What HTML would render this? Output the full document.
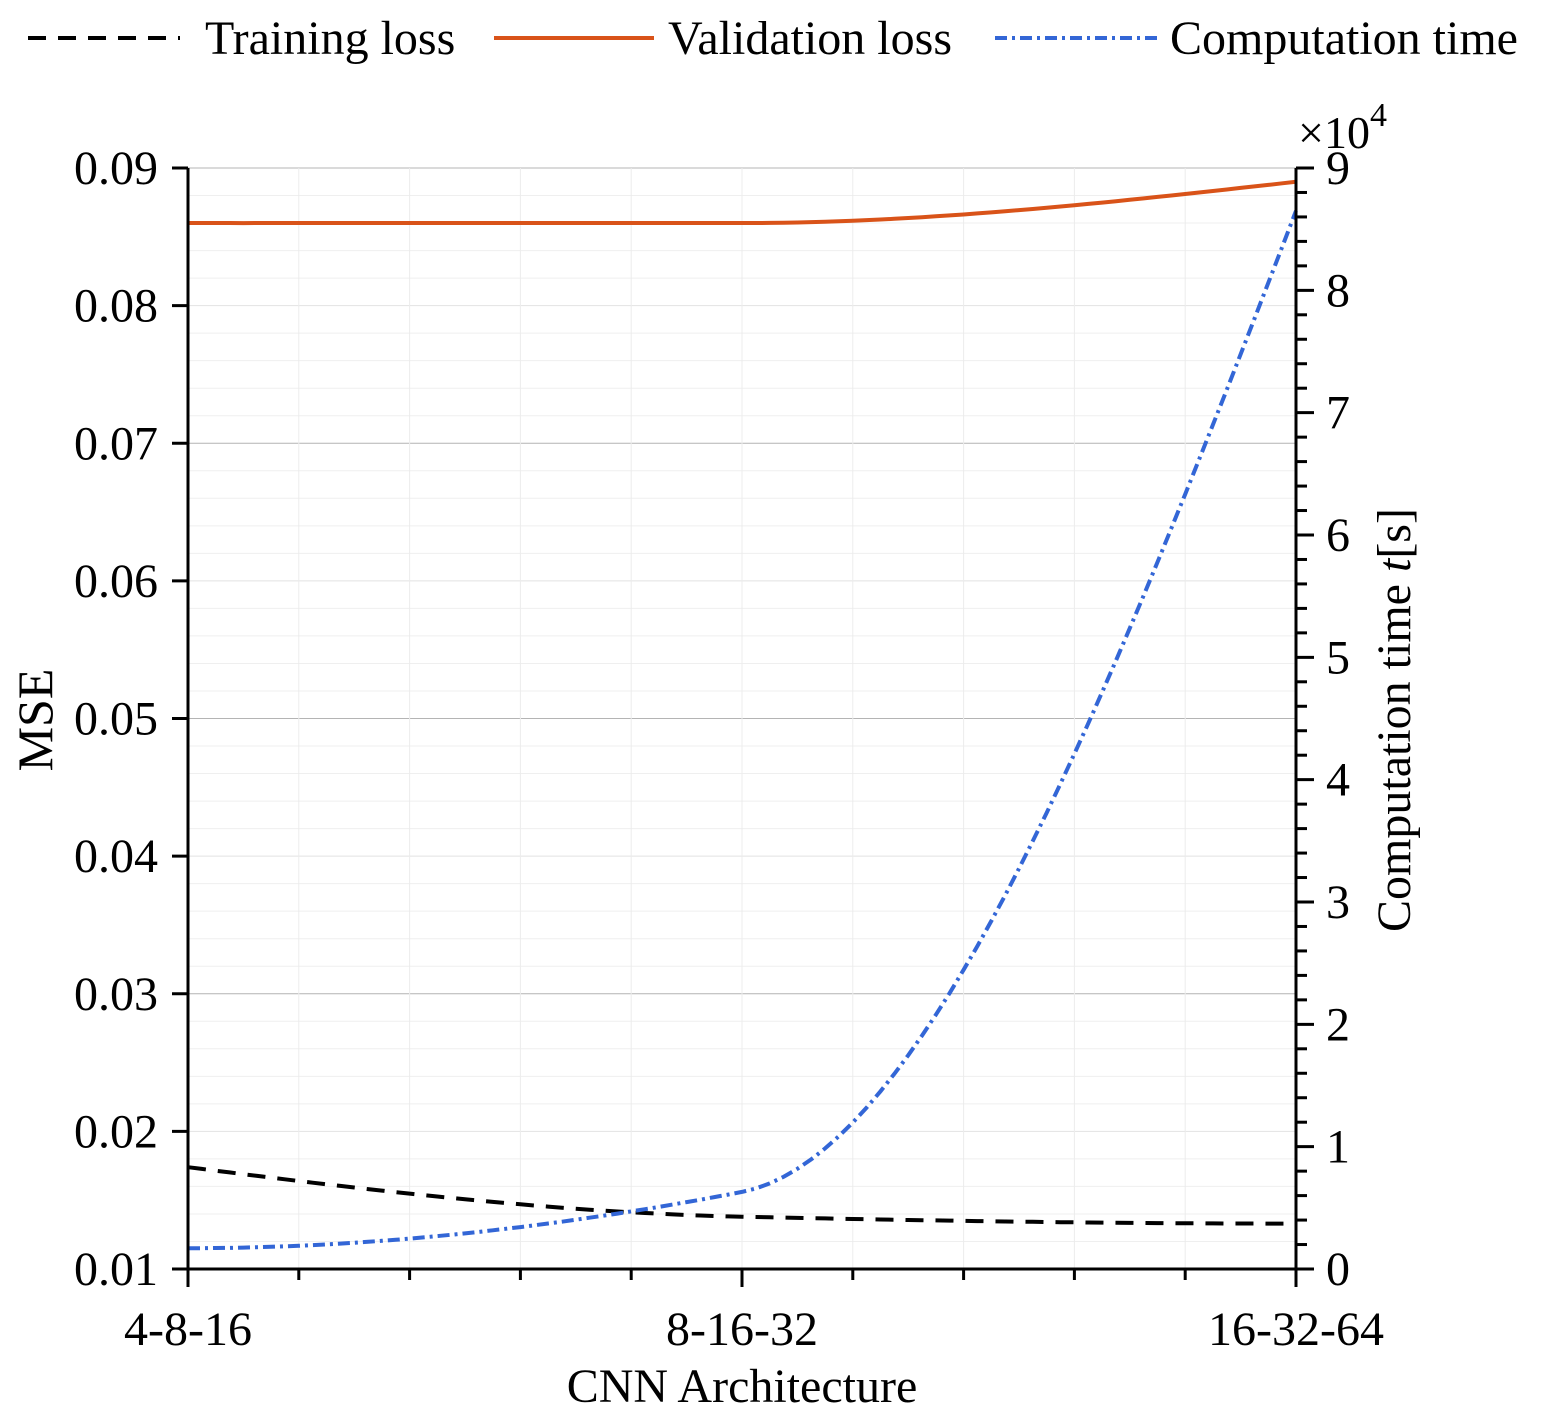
<!DOCTYPE html>
<html><head><meta charset="utf-8"><style>
body{margin:0;background:#fff}
svg text{font-family:"Liberation Serif",serif;fill:#000}
</style></head><body>
<svg width="1541" height="1421" xmlns="http://www.w3.org/2000/svg">
<g id="grid"></g>
<g id="marks"></g>
<g id="axes"></g>
<g>
 <line x1="28" y1="38" x2="180" y2="38" stroke="#000" stroke-width="4" stroke-dasharray="18,12"/>
 <text x="205" y="54" font-size="48">Training loss</text>
 <line x1="494" y1="38" x2="654" y2="38" stroke="#d95319" stroke-width="4"/>
 <text x="668" y="54" font-size="48">Validation loss</text>
 <line x1="995" y1="38" x2="1160" y2="38" stroke="#3366d6" stroke-width="4" stroke-dasharray="12,5,3,5"/>
 <text x="1170" y="54" font-size="48">Computation time</text>
</g>
<text x="742" y="1402" font-size="48" text-anchor="middle">CNN Architecture</text>
<text transform="translate(52,720) rotate(-90)" font-size="50" text-anchor="middle">MSE</text>
<text transform="translate(1410,720) rotate(-90)" font-size="48" text-anchor="middle">Computation time <tspan font-style="italic">t</tspan>[s]</text>
<text x="1298" y="148" font-size="46">×10<tspan font-size="34" dy="-22">4</tspan></text>
</svg>
<script>
const categories=["4-8-16","8-16-32","16-32-64"];
const trainingLoss=[0.0174,0.0138,0.0133];
const validationLoss=[0.086,0.086,0.089];
const compTime=[1700,6300,86500];
const leftTicks=[0.01,0.02,0.03,0.04,0.05,0.06,0.07,0.08,0.09];
const rightTicks=[0,1,2,3,4,5,6,7,8,9];

const X0=188,X1=1296,Y0=1269,Y1=168;
const xs=i=>X0+(X1-X0)*i/(categories.length-1);
const yL=v=>Y0-(v-0.01)/0.08*(Y0-Y1);
const yR=v=>Y0-v/90000*(Y0-Y1);
const NS="http://www.w3.org/2000/svg";
function mk(t,a,p){const e=document.createElementNS(NS,t);for(const k in a)e.setAttribute(k,a[k]);p.appendChild(e);return e;}
const grid=document.getElementById('grid'),axes=document.getElementById('axes'),marks=document.getElementById('marks');
for(let k=0;k<=40;k++){const y=yL(0.01+k*0.002);const dark=(k%10==0&&k>0);const mid=k%5==0&&!dark;
const l=mk('line',{x1:X0,x2:X1,y1:y,y2:y,stroke:dark?'#b4b4b4':(mid?'#e2e2e2':'#efefef'),'stroke-width':1},grid);
}
for(let k=0;k<=10;k++){const x=X0+(X1-X0)*k/10;const l=mk('line',{x1:x,x2:x,y1:Y1,y2:Y0,stroke:'#ececec','stroke-width':1},grid);
}
mk('line',{x1:X0,x2:X0,y1:Y1,y2:Y0+1,stroke:'#000','stroke-width':3},axes);
mk('line',{x1:X1,x2:X1,y1:Y1,y2:Y0+1,stroke:'#000','stroke-width':3},axes);
mk('line',{x1:X0,x2:X1,y1:Y0,y2:Y0,stroke:'#000','stroke-width':3},axes);
leftTicks.forEach(v=>{const y=yL(v);mk('line',{x1:X0-16,x2:X0,y1:y,y2:y,stroke:'#000','stroke-width':3},axes);
const t=mk('text',{x:X0-30,y:y+16,'font-size':48,'text-anchor':'end'},axes);t.textContent=v.toFixed(2);
});
for(let k=0;k<=45;k++){const y=yR(k*2000);mk('line',{x1:X1,x2:X1+(k%5==0?18:11),y1:y,y2:y,stroke:'#000','stroke-width':3},axes);}
rightTicks.forEach(v=>{const t=mk('text',{x:X1+30,y:yR(v*10000)+16,'font-size':48},axes);t.textContent=v;
});
for(let k=0;k<=10;k++){const x=X0+(X1-X0)*k/10;mk('line',{x1:x,x2:x,y1:Y0,y2:Y0+(k%5==0?18:11),stroke:'#000','stroke-width':3},axes);}
categories.forEach((c,i)=>{const t=mk('text',{x:xs(i),y:1345,'font-size':48,'text-anchor':'middle'},axes);t.textContent=c;
});
function pchip(ys){const n=ys.length,d=[],del=[];for(let i=0;i<n-1;i++)del.push(ys[i+1]-ys[i]);
for(let i=0;i<n;i++){if(i==0)d.push(del[0]);else if(i==n-1)d.push(del[n-2]);else d.push(del[i-1]*del[i]<=0?0:2/(1/del[i-1]+1/del[i]));}
if(n>=3){let e0=(3*del[0]-del[1])/2;if(Math.sign(e0)!=Math.sign(del[0]))e0=0;else if(Math.sign(del[0])!=Math.sign(del[1])&&Math.abs(e0)>Math.abs(3*del[0]))e0=3*del[0];d[0]=e0;
let e1=(3*del[n-2]-del[n-3])/2;if(Math.sign(e1)!=Math.sign(del[n-2]))e1=0;else if(Math.sign(del[n-2])!=Math.sign(del[n-3])&&Math.abs(e1)>Math.abs(3*del[n-2]))e1=3*del[n-2];d[n-1]=e1;}
const pts=[];for(let i=0;i<n-1;i++)for(let s=0;s<=40;s++){const t=s/40;const h00=2*t*t*t-3*t*t+1,h10=t*t*t-2*t*t+t,h01=-2*t*t*t+3*t*t,h11=t*t*t-t*t;
pts.push([i+t,h00*ys[i]+h10*d[i]+h01*ys[i+1]+h11*d[i+1]]);}return pts;}
function draw(vals,yf,attrs,name){const p=pchip(vals);const dstr=p.map((q,j)=>(j?'L':'M')+(X0+(X1-X0)*q[0]/(categories.length-1)).toFixed(1)+','+yf(q[1]).toFixed(1)).join('');
const e=mk('path',Object.assign({d:dstr,fill:'none'},attrs),marks);}
draw(validationLoss,yL,{stroke:'#d95319','stroke-width':4},'validation-loss-line');
draw(trainingLoss,yL,{stroke:'#000','stroke-width':4,'stroke-dasharray':'18,12'},'training-loss-line');
draw(compTime,yR,{stroke:'#3366d6','stroke-width':4,'stroke-dasharray':'12,5,3,5'},'computation-time-line');
</script>
</body></html>
